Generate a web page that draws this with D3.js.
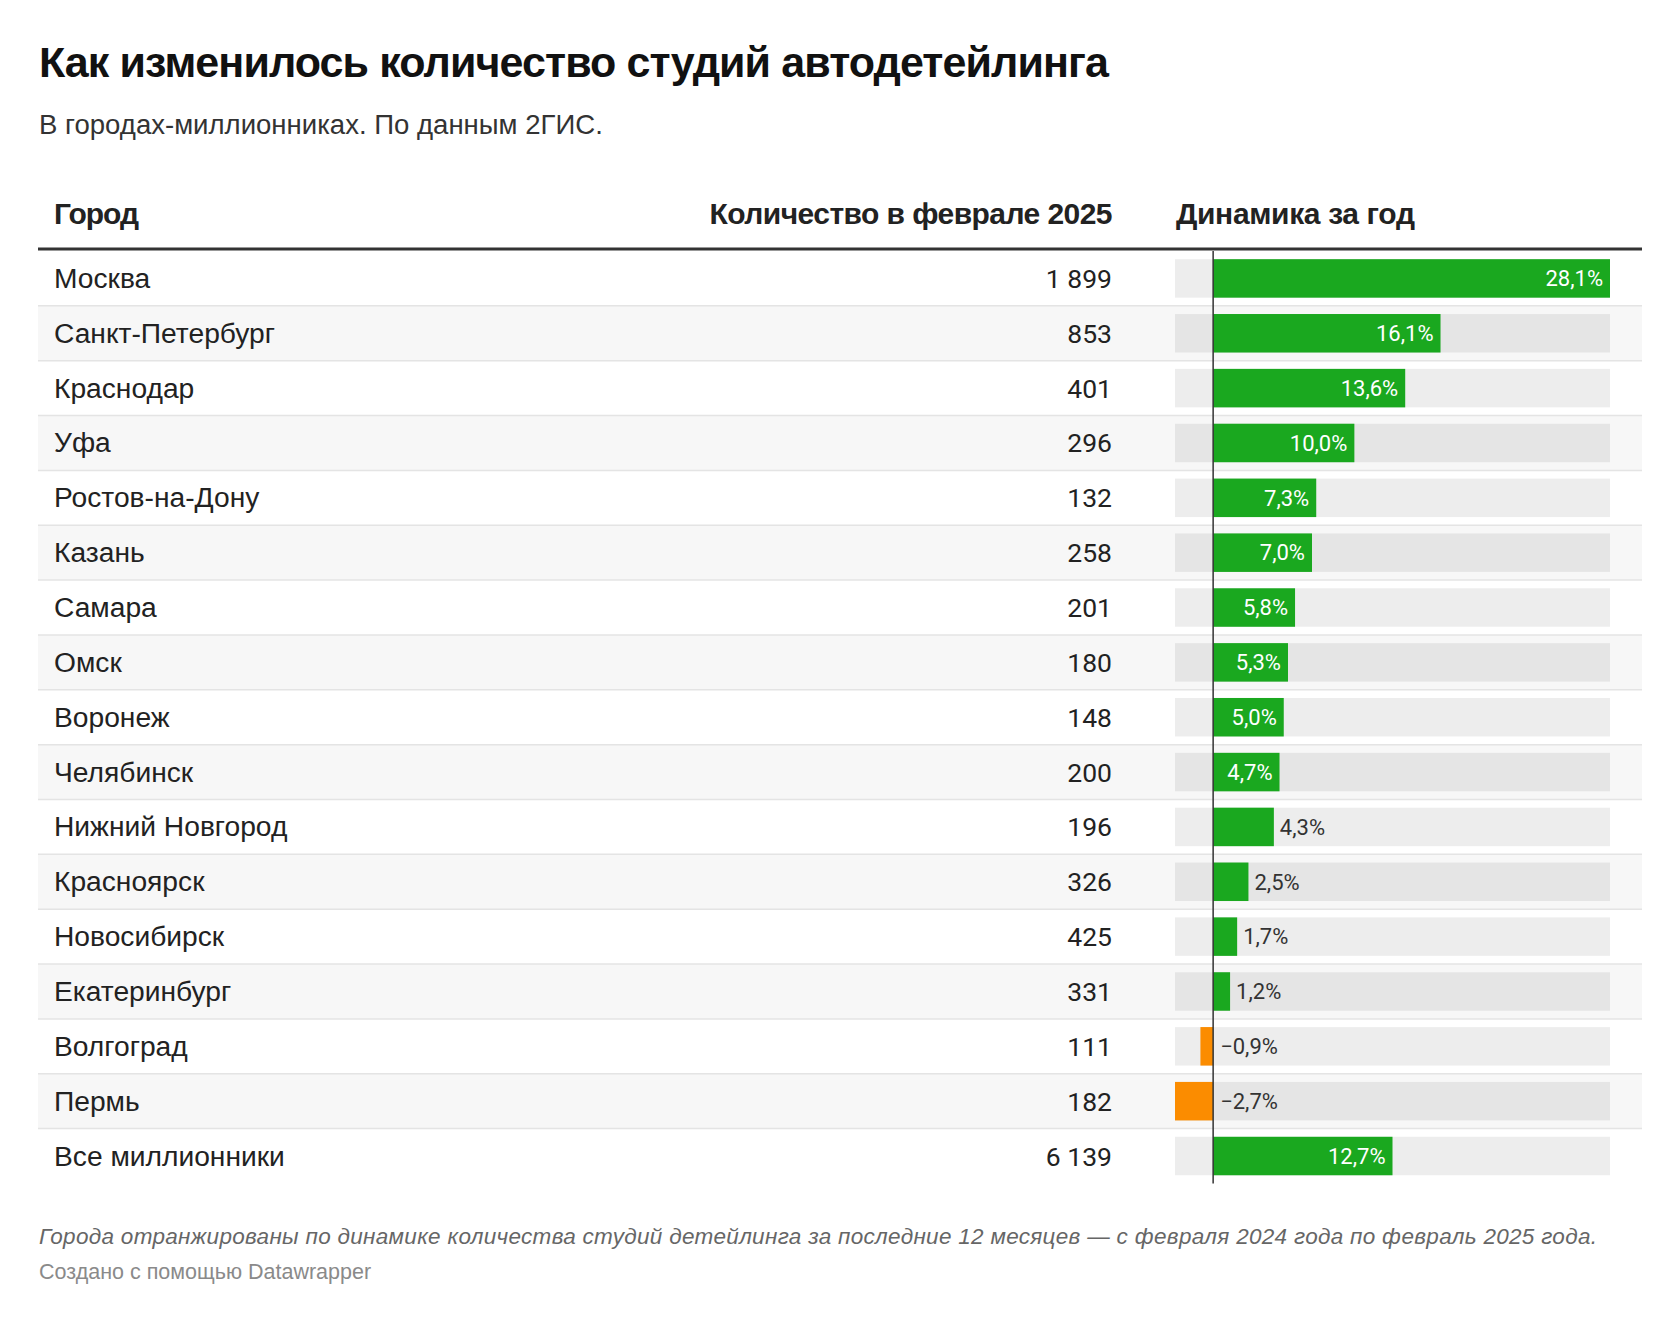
<!DOCTYPE html>
<html lang="ru">
<head>
<meta charset="utf-8">
<script src="https://cdn.jsdelivr.net/npm/d3@7"></script>
<style>
  html, body { margin: 0; padding: 0; background: #fff; }
  svg { display: block; }
</style>
</head>
<body>
<svg id="chart" width="1680" height="1323"></svg>
<script>
// ---- data ----
const cities = ["Москва","Санкт-Петербург","Краснодар","Уфа","Ростов-на-Дону","Казань","Самара","Омск","Воронеж","Челябинск","Нижний Новгород","Красноярск","Новосибирск","Екатеринбург","Волгоград","Пермь","Все миллионники"];
const counts = [1899,853,401,296,132,258,201,180,148,200,196,326,425,331,111,182,6139];
const changes = [28.1,16.1,13.6,10.0,7.3,7.0,5.8,5.3,5.0,4.7,4.3,2.5,1.7,1.2,-0.9,-2.7,12.7];
const columnHeaders = ["Город","Количество в феврале 2025","Динамика за год"];
const titleText = "Как изменилось количество студий автодетейлинга";
const subtitleText = "В городах-миллионниках. По данным 2ГИС.";
const noteText = "Города отранжированы по динамике количества студий детейлинга за последние 12 месяцев — с февраля 2024 года по февраль 2025 года.";
const creditText = "Создано с помощью Datawrapper";

// ---- layout ----
const W = 1680, H = 1323;
const left = 38, right = 1642;
const tableTop = 251, rowH = 54.85;
const cityX = 54, countX = 1112;
const barLeft = 1175, barRight = 1610;
const sansText = "'Liberation Sans', Arial, Helvetica, sans-serif";
const sansNum = "Roboto, 'Liberation Sans', Arial, sans-serif";

const svg = d3.select("#chart");

const locale = d3.formatLocale({decimal: ",", thousands: "\u00a0", grouping: [3], currency: ["", ""], minus: "\u2212"});
const fmtCount = locale.format(",d");
const fmtPct = v => locale.format(".1f")(v) + "%";

function fitText(sel, target) {
  const len = sel.node().getComputedTextLength();
  const fs = parseFloat(sel.attr("font-size"));
  sel.attr("font-size", (fs * target / len).toFixed(2));
}
function fitSpacing(sel, target) {
  const txt = sel.text();
  const len = sel.node().getComputedTextLength();
  sel.attr("letter-spacing", ((target - len) / (txt.length - 1)).toFixed(3));
}

// title & subtitle
const title = svg.append("text").attr("x", 39).attr("y", 77)
  .attr("font-family", sansText).attr("font-weight", 700).attr("font-size", 43)
  .attr("fill", "#111").text(titleText);
fitSpacing(title, 1070);

const sub = svg.append("text").attr("x", 39).attr("y", 134)
  .attr("font-family", sansText).attr("font-size", 25)
  .attr("fill", "#333").text(subtitleText);
fitText(sub, 564);

// column headers
const hdrY = 224;
const hdrTargets = [85, 403, 239];
const h1 = svg.append("text").attr("x", cityX).attr("y", hdrY)
  .attr("font-family", sansText).attr("font-weight", 700).attr("font-size", 30)
  .attr("fill", "#222").text(columnHeaders[0]);
fitSpacing(h1, hdrTargets[0]);
const h2 = svg.append("text").attr("x", countX).attr("y", hdrY).attr("text-anchor", "end")
  .attr("font-family", sansText).attr("font-weight", 700).attr("font-size", 30)
  .attr("fill", "#222").text(columnHeaders[1]);
fitSpacing(h2, hdrTargets[1]);
const h3 = svg.append("text").attr("x", barLeft + 1).attr("y", hdrY)
  .attr("font-family", sansText).attr("font-weight", 700).attr("font-size", 30)
  .attr("fill", "#222").text(columnHeaders[2]);
fitSpacing(h3, hdrTargets[2]);

// scales
const y = d3.scaleBand().domain(cities).range([tableTop, tableTop + rowH * cities.length]);
const x = d3.scaleLinear().domain([Math.min(0, d3.min(changes)), d3.max(changes)]).range([barLeft, barRight]);

const rows = cities.map((c, i) => ({city: c, count: counts[i], change: changes[i], i}));

// row backgrounds
svg.append("g").selectAll("rect").data(rows).join("rect")
  .attr("x", left).attr("width", right - left)
  .attr("y", d => y(d.city)).attr("height", y.bandwidth())
  .attr("fill", d => d.i % 2 ? "#f7f7f7" : "#ffffff");

// separators
svg.append("g").selectAll("line").data(rows.slice(0, -1)).join("line")
  .attr("x1", left).attr("x2", right)
  .attr("y1", d => y(d.city) + y.bandwidth()).attr("y2", d => y(d.city) + y.bandwidth())
  .attr("stroke", "#e4e4e4").attr("stroke-width", 1.5);

// header rule
svg.append("line").attr("x1", left).attr("x2", right)
  .attr("y1", tableTop - 2).attr("y2", tableTop - 2)
  .attr("stroke", "#333").attr("stroke-width", 3);

// city names
svg.append("g").selectAll("text").data(rows).join("text")
  .attr("x", cityX).attr("y", d => y(d.city) + y.bandwidth() / 2 + 9.5)
  .attr("font-family", sansText).attr("font-size", 28.2).attr("fill", "#222")
  .text(d => d.city);

// counts
svg.append("g").selectAll("text").data(rows).join("text")
  .attr("x", countX).attr("y", d => y(d.city) + y.bandwidth() / 2 + 9.5)
  .attr("text-anchor", "end")
  .attr("font-family", sansNum).attr("font-size", 26.5).attr("fill", "#222")
  .text(d => fmtCount(d.count));

// bars
const barH = 38.5;
const barY = d => y(d.city) + (y.bandwidth() - barH) / 2;
svg.append("g").selectAll("rect").data(rows).join("rect")
  .attr("x", barLeft).attr("width", barRight - barLeft)
  .attr("y", barY).attr("height", barH)
  .attr("fill", "rgba(0,0,0,0.072)");

svg.append("g").selectAll("rect").data(rows).join("rect")
  .attr("x", d => x(Math.min(0, d.change)))
  .attr("width", d => Math.abs(x(d.change) - x(0)))
  .attr("y", barY).attr("height", barH)
  .attr("fill", d => d.change >= 0 ? "#1aa81f" : "#fb8c00");

// value labels
const labels = svg.append("g").selectAll("text").data(rows).join("text")
  .attr("y", d => barY(d) + barH / 2 + 7.8)
  .attr("font-family", sansNum).attr("font-size", 22)
  .text(d => fmtPct(d.change));
labels.each(function(d) {
  const t = d3.select(this);
  const w = this.getComputedTextLength();
  const bw = Math.abs(x(d.change) - x(0));
  if (d.change > 0 && bw > w + 18) {
    t.attr("x", x(d.change) - 7).attr("text-anchor", "end").attr("fill", "#fff");
  } else if (d.change > 0) {
    t.attr("x", x(d.change) + 6).attr("text-anchor", "start").attr("fill", "#333");
  } else {
    t.attr("x", x(0) + 7).attr("text-anchor", "start").attr("fill", "#333");
  }
});

// zero line
svg.append("line").attr("x1", x(0)).attr("x2", x(0))
  .attr("y1", tableTop).attr("y2", tableTop + rowH * cities.length)
  .attr("stroke", "#333").attr("stroke-width", 1.5);

// footer
const note = svg.append("text").attr("x", 39).attr("y", 1244)
  .attr("font-family", sansText).attr("font-style", "italic").attr("font-size", 22.5)
  .attr("fill", "#666").text(noteText);
fitSpacing(note, 1558);

const credit = svg.append("text").attr("x", 39).attr("y", 1279)
  .attr("font-family", sansText).attr("font-size", 20)
  .attr("fill", "#8a8a8a").text(creditText);
fitText(credit, 332);
</script>
</body>
</html>
